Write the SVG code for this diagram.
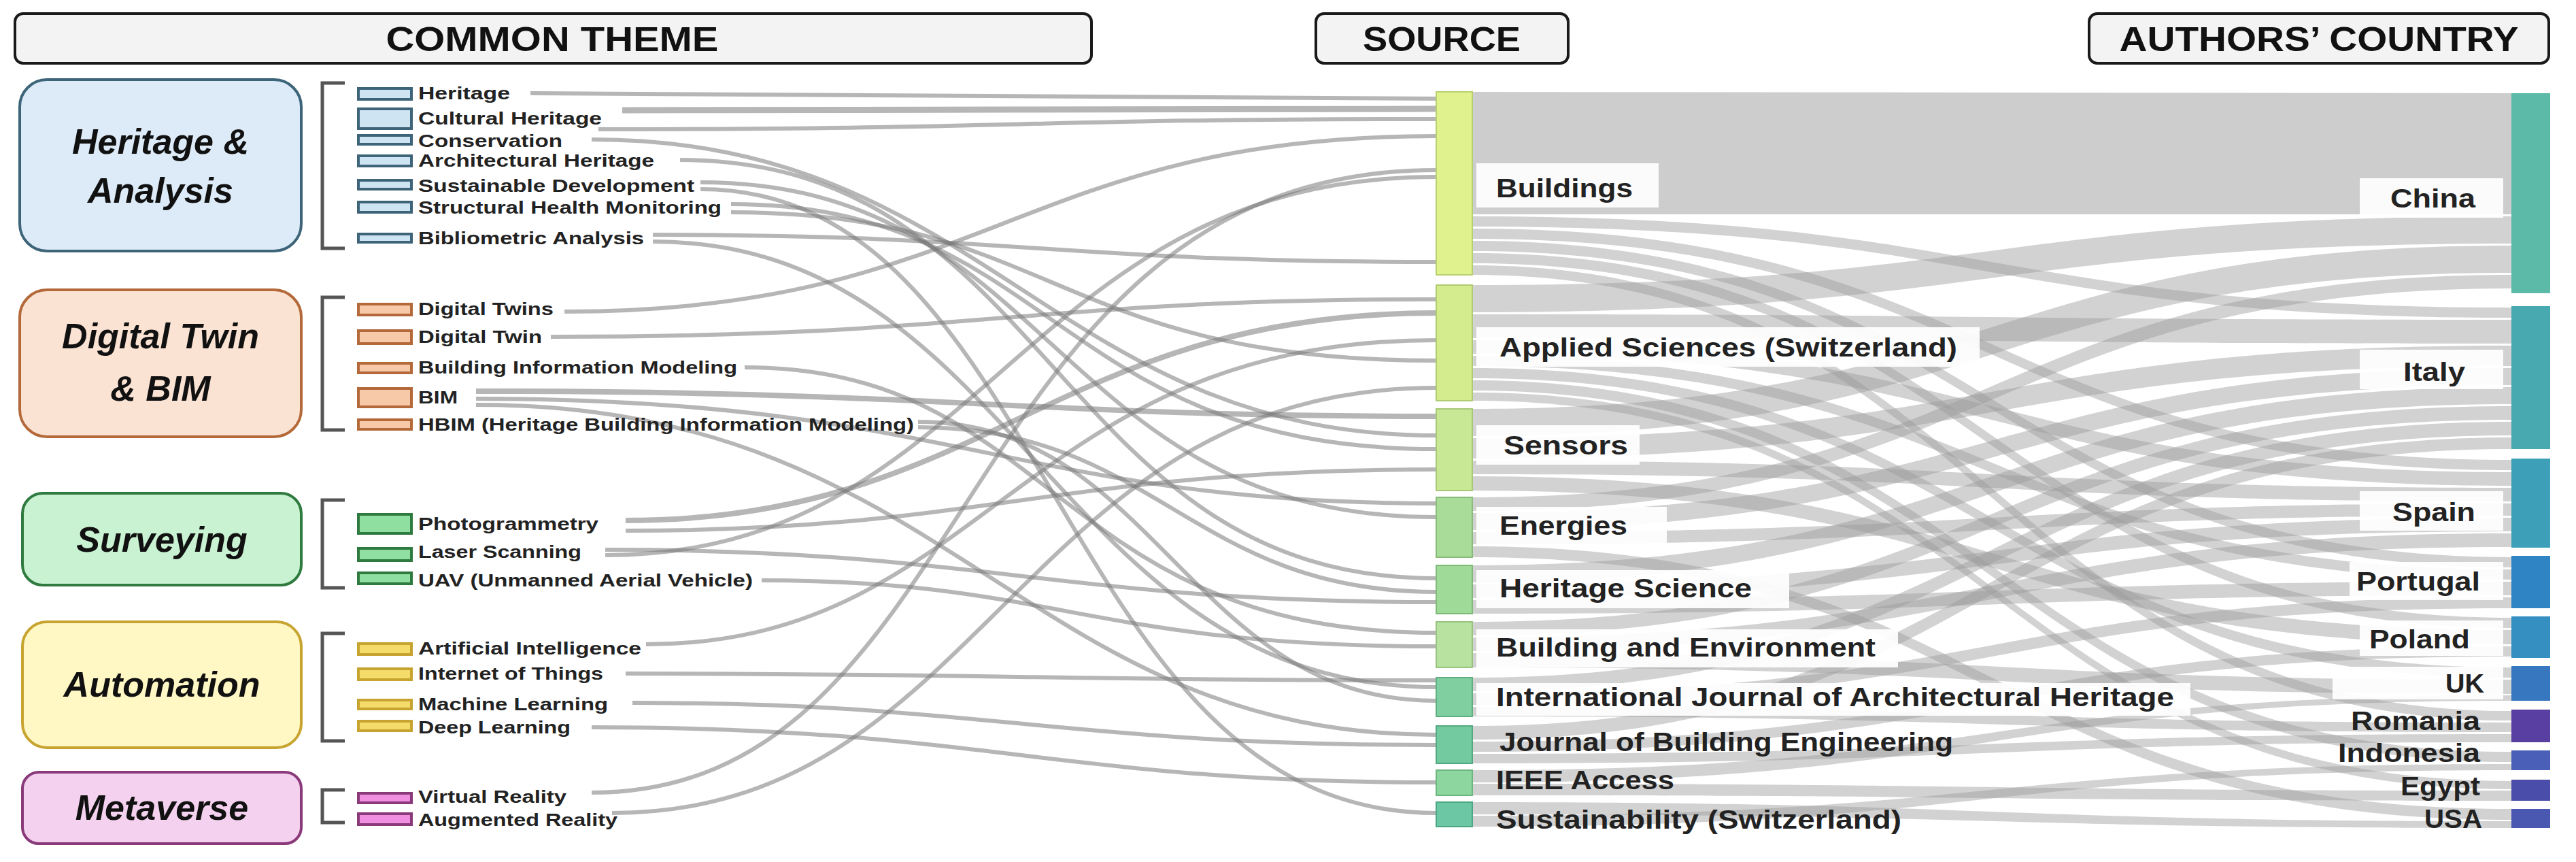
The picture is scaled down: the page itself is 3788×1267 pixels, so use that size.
<svg xmlns="http://www.w3.org/2000/svg" width="3788" height="1267" viewBox="0 0 3788 1267">
<style>
.hdr{fill:#f3f3f3;stroke:#1a1a1a;stroke-width:4}
.ht{font-family:"Liberation Sans",Arial,sans-serif;font-weight:bold;font-size:50px;fill:#111;text-anchor:middle}
.gt{font-family:"Liberation Sans",Arial,sans-serif;font-weight:bold;font-style:italic;font-size:52px;fill:#111;text-anchor:middle}
.it{font-family:"Liberation Sans",Arial,sans-serif;font-weight:bold;font-size:26px;fill:#222}
.st{font-family:"Liberation Sans",Arial,sans-serif;font-weight:bold;font-size:38px;fill:#222}
.ct{font-family:"Liberation Sans",Arial,sans-serif;font-weight:bold;font-size:38px;fill:#222;text-anchor:end}
.br{fill:none;stroke:#555;stroke-width:5}
.lk{fill:none;stroke:#7a7a7a;stroke-opacity:0.55;stroke-width:6}
.fl{fill:#9c9c9c;fill-opacity:0.45}
.lb{fill:#fff;fill-opacity:0.92}
.h1{fill:#cfe4f3;stroke:#3d6478;stroke-width:4}
.h2{fill:#f8c9a8;stroke:#b4693a;stroke-width:4}
.h3{fill:#8fe0a0;stroke:#2f7a3f;stroke-width:4}
.h4{fill:#f5dc6a;stroke:#c7a430;stroke-width:4}
.h5{fill:#f08ee0;stroke:#8a3a7a;stroke-width:4}
</style>
<rect width="3788" height="1267" fill="#fff"/>
<!-- headers -->
<g id="hdr-theme"><rect class="hdr" x="22" y="20" width="1583" height="73" rx="12"/><text class="ht" x="812" y="75" textLength="489" lengthAdjust="spacingAndGlyphs">COMMON THEME</text></g>
<g id="hdr-source"><rect class="hdr" x="1935" y="20" width="371" height="73" rx="12"/><text class="ht" x="2120" y="75" textLength="232" lengthAdjust="spacingAndGlyphs">SOURCE</text></g>
<g id="hdr-country"><rect class="hdr" x="3072" y="20" width="676" height="73" rx="12"/><text class="ht" x="3410" y="75" textLength="587" lengthAdjust="spacingAndGlyphs">AUTHORS’ COUNTRY</text></g>

<!-- right flows -->
<g id="flows">
<path class="fl" d="M2165,135 L3693,137 L3693,315 L2165,315 Z" style="fill:#c4c4c4;fill-opacity:0.85"/>
<path class="fl" d="M2165,318 C2929,318 2929,452 3693,452 L3693,467 C2929,467 2929,333 2165,333 Z"/>
<path class="fl" d="M2165,336 C2929,336 2929,676 3693,676 L3693,691 C2929,691 2929,351 2165,351 Z"/>
<path class="fl" d="M2165,354 C2929,354 2929,819 3693,819 L3693,834 C2929,834 2929,369 2165,369 Z"/>
<path class="fl" d="M2165,372 C2929,372 2929,908 3693,908 L3693,923 C2929,923 2929,387 2165,387 Z"/>
<path class="fl" d="M2165,390 C2929,390 2929,1045 3693,1045 L3693,1059 C2929,1059 2929,404 2165,404 Z"/>
<path class="fl" d="M2165,419 C2929,419 2929,318 3693,318 L3693,358 C2929,358 2929,459 2165,459 Z"/>
<path class="fl" d="M2165,462 C2929,462 2929,470 3693,470 L3693,505 C2929,505 2929,497 2165,497 Z"/>
<path class="fl" d="M2165,500 C2929,500 2929,694 3693,694 L3693,714 C2929,714 2929,520 2165,520 Z"/>
<path class="fl" d="M2165,523 C2929,523 2929,837 3693,837 L3693,852 C2929,852 2929,538 2165,538 Z"/>
<path class="fl" d="M2165,541 C2929,541 2929,981 3693,981 L3693,996 C2929,996 2929,556 2165,556 Z"/>
<path class="fl" d="M2165,559 C2929,559 2929,1105 3693,1105 L3693,1120 C2929,1120 2929,574 2165,574 Z"/>
<path class="fl" d="M2165,577 C2929,577 2929,1148 3693,1148 L3693,1160 C2929,1160 2929,589 2165,589 Z"/>
<path class="fl" d="M2165,601 C2929,601 2929,361 3693,361 L3693,401 C2929,401 2929,641 2165,641 Z"/>
<path class="fl" d="M2165,644 C2929,644 2929,508 3693,508 L3693,538 C2929,538 2929,674 2165,674 Z"/>
<path class="fl" d="M2165,677 C2929,677 2929,717 3693,717 L3693,737 C2929,737 2929,697 2165,697 Z"/>
<path class="fl" d="M2165,700 C2929,700 2929,926 3693,926 L3693,947 C2929,947 2929,721 2165,721 Z"/>
<path class="fl" d="M2165,731 C2929,731 2929,404 3693,404 L3693,424 C2929,424 2929,751 2165,751 Z"/>
<path class="fl" d="M2165,754 C2929,754 2929,541 3693,541 L3693,566 C2929,566 2929,779 2165,779 Z"/>
<path class="fl" d="M2165,782 C2929,782 2929,740 3693,740 L3693,758 C2929,758 2929,800 2165,800 Z"/>
<path class="fl" d="M2165,803 C2929,803 2929,1189 3693,1189 L3693,1205 C2929,1205 2929,819 2165,819 Z"/>
<path class="fl" d="M2165,831 C2929,831 2929,569 3693,569 L3693,594 C2929,594 2929,856 2165,856 Z"/>
<path class="fl" d="M2165,859 C2929,859 2929,761 3693,761 L3693,781 C2929,781 2929,879 2165,879 Z"/>
<path class="fl" d="M2165,882 C2929,882 2929,855 3693,855 L3693,875 C2929,875 2929,902 2165,902 Z"/>
<path class="fl" d="M2165,914 C2929,914 2929,597 3693,597 L3693,617 C2929,617 2929,934 2165,934 Z"/>
<path class="fl" d="M2165,937 C2929,937 2929,784 3693,784 L3693,804 C2929,804 2929,957 2165,957 Z"/>
<path class="fl" d="M2165,960 C2929,960 2929,999 3693,999 L3693,1020 C2929,1020 2929,981 2165,981 Z"/>
<path class="fl" d="M2165,996 C2929,996 2929,620 3693,620 L3693,640 C2929,640 2929,1016 2165,1016 Z"/>
<path class="fl" d="M2165,1019 C2929,1019 2929,878 3693,878 L3693,894 C2929,894 2929,1036 2165,1036 Z"/>
<path class="fl" d="M2165,1039 C2929,1039 2929,1062 3693,1062 L3693,1076 C2929,1076 2929,1053 2165,1053 Z"/>
<path class="fl" d="M2165,1067 C2929,1067 2929,643 3693,643 L3693,660 C2929,660 2929,1087 2165,1087 Z"/>
<path class="fl" d="M2165,1090 C2929,1090 2929,950 3693,950 L3693,965 C2929,965 2929,1105 2165,1105 Z"/>
<path class="fl" d="M2165,1108 C2929,1108 2929,1079 3693,1079 L3693,1091 C2929,1091 2929,1122 2165,1122 Z"/>
<path class="fl" d="M2165,1132 C2929,1132 2929,1022 3693,1022 L3693,1030 C2929,1030 2929,1150 2165,1150 Z"/>
<path class="fl" d="M2165,1152 C2929,1152 2929,1162 3693,1162 L3693,1177 C2929,1177 2929,1169 2165,1169 Z"/>
<path class="fl" d="M2165,1179 C2929,1179 2929,1207 3693,1207 L3693,1217 C2929,1217 2929,1197 2165,1197 Z"/>
<path class="fl" d="M2165,1199 C2929,1199 2929,1123 3693,1123 L3693,1132 C2929,1132 2929,1215 2165,1215 Z"/>
</g>

<!-- left connectors -->
<g id="links">
<path class="lk" d="M780,137 C1400,137 1500,145 2112,145"/>
<path class="lk" d="M915,162 C1500,162 1500,160 2112,160" style="stroke-width:9"/>
<path class="lk" d="M880,190 C1500,190 1500,175 2112,175"/>
<path class="lk" d="M870,205 C1450,205 1550,640 2112,640"/>
<path class="lk" d="M1000,235 C1550,235 1550,850 2112,850"/>
<path class="lk" d="M1030,268 C1550,268 1550,760 2112,760"/>
<path class="lk" d="M1030,278 C1550,278 1550,1195 2112,1195"/>
<path class="lk" d="M1075,300 C1550,300 1550,660 2112,660"/>
<path class="lk" d="M1075,312 C1550,312 1550,530 2112,530"/>
<path class="lk" d="M960,345 C1500,345 1550,385 2112,385"/>
<path class="lk" d="M960,355 C1500,355 1550,1010 2112,1010"/>
<path class="lk" d="M830,458 C1450,458 1500,200 2112,200"/>
<path class="lk" d="M810,495 C1450,495 1500,440 2112,440"/>
<path class="lk" d="M1095,540 C1550,540 1550,930 2112,930"/>
<path class="lk" d="M700,575 C1400,575 1500,612 2112,612" style="stroke-width:8"/>
<path class="lk" d="M700,586 C1400,586 1500,740 2112,740"/>
<path class="lk" d="M700,595 C1400,595 1500,1080 2112,1080"/>
<path class="lk" d="M1350,620 C1700,620 1750,1030 2112,1030"/>
<path class="lk" d="M1350,628 C1700,628 1750,870 2112,870"/>
<path class="lk" d="M920,765 C1450,765 1550,460 2112,460" style="stroke-width:8"/>
<path class="lk" d="M920,780 C1450,780 1550,690 2112,690"/>
<path class="lk" d="M890,808 C1450,808 1550,885 2112,885"/>
<path class="lk" d="M890,816 C1450,816 1500,260 2112,260"/>
<path class="lk" d="M1120,853 C1550,853 1600,950 2112,950"/>
<path class="lk" d="M950,947 C1450,947 1500,500 2112,500"/>
<path class="lk" d="M920,990 C1450,990 1550,1000 2112,1000"/>
<path class="lk" d="M930,1033 C1450,1033 1550,1095 2112,1095"/>
<path class="lk" d="M870,1069 C1450,1069 1550,1150 2112,1150"/>
<path class="lk" d="M870,1165 C1450,1165 1400,250 2112,250"/>
<path class="lk" d="M900,1195 C1450,1195 1500,570 2112,570"/>
</g>

<!-- theme groups -->
<g id="grp-heritage"><rect class="h1" x="29" y="117" width="414" height="252" rx="40" style="fill:#dcebf7"/><text class="gt" x="236" y="226">Heritage &amp;</text><text class="gt" x="236" y="298">Analysis</text><path class="br" d="M507,122 H474 V365 H507"/></g>
<g id="grp-dt"><rect class="h2" x="29" y="426" width="414" height="216" rx="40" style="fill:#fbe3d3"/><text class="gt" x="236" y="512">Digital Twin</text><text class="gt" x="236" y="589">&amp; BIM</text><path class="br" d="M507,437 H474 V632 H507"/></g>
<g id="grp-surv"><rect class="h3" x="33" y="725" width="410" height="135" rx="30" style="fill:#c9f2d2"/><text class="gt" x="238" y="811">Surveying</text><path class="br" d="M507,735 H474 V864 H507"/></g>
<g id="grp-auto"><rect class="h4" x="33" y="914" width="410" height="185" rx="36" style="fill:#fff8c4"/><text class="gt" x="238" y="1024">Automation</text><path class="br" d="M507,931 H474 V1089 H507"/></g>
<g id="grp-meta"><rect class="h5" x="33" y="1135" width="410" height="105" rx="24" style="fill:#f4d2ef"/><text class="gt" x="238" y="1205">Metaverse</text><path class="br" d="M507,1161 H474 V1209 H507"/></g>

<!-- items -->
<g id="items">
<g id="it-heritage"><rect class="h1" x="527" y="130" width="78" height="16"/><text class="it" x="615" y="146" textLength="135" lengthAdjust="spacingAndGlyphs">Heritage</text></g>
<g id="it-cultural"><rect class="h1" x="527" y="160" width="78" height="29"/><text class="it" x="615" y="183" textLength="270" lengthAdjust="spacingAndGlyphs">Cultural Heritage</text></g>
<g id="it-conservation"><rect class="h1" x="527" y="199" width="78" height="13"/><text class="it" x="615" y="216" textLength="212" lengthAdjust="spacingAndGlyphs">Conservation</text></g>
<g id="it-arch"><rect class="h1" x="527" y="229" width="78" height="15"/><text class="it" x="615" y="245" textLength="347" lengthAdjust="spacingAndGlyphs">Architectural Heritage</text></g>
<g id="it-sust"><rect class="h1" x="527" y="265" width="78" height="13"/><text class="it" x="615" y="282" textLength="406" lengthAdjust="spacingAndGlyphs">Sustainable Development</text></g>
<g id="it-shm"><rect class="h1" x="527" y="297" width="78" height="15"/><text class="it" x="615" y="314" textLength="446" lengthAdjust="spacingAndGlyphs">Structural Health Monitoring</text></g>
<g id="it-biblio"><rect class="h1" x="527" y="344" width="78" height="12"/><text class="it" x="615" y="359" textLength="332" lengthAdjust="spacingAndGlyphs">Bibliometric Analysis</text></g>
<g id="it-dts"><rect class="h2" x="527" y="447" width="78" height="16"/><text class="it" x="615" y="463" textLength="199" lengthAdjust="spacingAndGlyphs">Digital Twins</text></g>
<g id="it-dt"><rect class="h2" x="527" y="486" width="78" height="19"/><text class="it" x="615" y="504" textLength="182" lengthAdjust="spacingAndGlyphs">Digital Twin</text></g>
<g id="it-bimfull"><rect class="h2" x="527" y="534" width="78" height="14"/><text class="it" x="615" y="549" textLength="469" lengthAdjust="spacingAndGlyphs">Building Information Modeling</text></g>
<g id="it-bim"><rect class="h2" x="527" y="571" width="78" height="27"/><text class="it" x="615" y="593" textLength="58" lengthAdjust="spacingAndGlyphs">BIM</text></g>
<g id="it-hbim"><rect class="h2" x="527" y="617" width="78" height="14"/><text class="it" x="615" y="633" textLength="729" lengthAdjust="spacingAndGlyphs">HBIM (Heritage Building Information Modeling)</text></g>
<g id="it-photo"><rect class="h3" x="527" y="756" width="78" height="28"/><text class="it" x="615" y="779" textLength="265" lengthAdjust="spacingAndGlyphs">Photogrammetry</text></g>
<g id="it-laser"><rect class="h3" x="527" y="806" width="78" height="18"/><text class="it" x="615" y="820" textLength="240" lengthAdjust="spacingAndGlyphs">Laser Scanning</text></g>
<g id="it-uav"><rect class="h3" x="527" y="842" width="78" height="16"/><text class="it" x="615" y="862" textLength="492" lengthAdjust="spacingAndGlyphs">UAV (Unmanned Aerial Vehicle)</text></g>
<g id="it-ai"><rect class="h4" x="527" y="946" width="78" height="16"/><text class="it" x="615" y="962" textLength="328" lengthAdjust="spacingAndGlyphs">Artificial Intelligence</text></g>
<g id="it-iot"><rect class="h4" x="527" y="983" width="78" height="16"/><text class="it" x="615" y="999" textLength="272" lengthAdjust="spacingAndGlyphs">Internet of Things</text></g>
<g id="it-ml"><rect class="h4" x="527" y="1029" width="78" height="13"/><text class="it" x="615" y="1044" textLength="279" lengthAdjust="spacingAndGlyphs">Machine Learning</text></g>
<g id="it-dl"><rect class="h4" x="527" y="1060" width="78" height="14"/><text class="it" x="615" y="1078" textLength="224" lengthAdjust="spacingAndGlyphs">Deep Learning</text></g>
<g id="it-vr"><rect class="h5" x="527" y="1166" width="78" height="14"/><text class="it" x="615" y="1180" textLength="218" lengthAdjust="spacingAndGlyphs">Virtual Reality</text></g>
<g id="it-ar"><rect class="h5" x="527" y="1196" width="78" height="16"/><text class="it" x="615" y="1214" textLength="293" lengthAdjust="spacingAndGlyphs">Augmented Reality</text></g>
</g>

<!-- source nodes -->
<g id="sources">
<g id="s-buildings"><rect x="2112" y="135" width="53" height="269" fill="#e0f28e" stroke="#b9d070" stroke-width="2"/><rect class="lb" x="2171" y="240" width="268" height="65"/><text class="st" x="2200" y="290" textLength="201" lengthAdjust="spacingAndGlyphs">Buildings</text></g>
<g id="s-applied"><rect x="2112" y="419" width="53" height="170" fill="#d4ec8e" stroke="#b0cc70" stroke-width="2"/><rect class="lb" x="2171" y="481" width="740" height="58"/><text class="st" x="2205" y="524" textLength="673" lengthAdjust="spacingAndGlyphs">Applied Sciences (Switzerland)</text></g>
<g id="s-sensors"><rect x="2112" y="601" width="53" height="120" fill="#c8e895" stroke="#a8c878" stroke-width="2"/><rect class="lb" x="2171" y="625" width="240" height="58"/><text class="st" x="2211" y="668" textLength="183" lengthAdjust="spacingAndGlyphs">Sensors</text></g>
<g id="s-energies"><rect x="2112" y="731" width="53" height="88" fill="#a8dc98" stroke="#88bc78" stroke-width="2"/><rect class="lb" x="2171" y="745" width="280" height="58"/><text class="st" x="2205" y="786" textLength="188" lengthAdjust="spacingAndGlyphs">Energies</text></g>
<g id="s-hs"><rect x="2112" y="831" width="53" height="71" fill="#a0da98" stroke="#80ba78" stroke-width="2"/><rect class="lb" x="2171" y="838" width="460" height="56"/><text class="st" x="2205" y="878" textLength="371" lengthAdjust="spacingAndGlyphs">Heritage Science</text></g>
<g id="s-be"><rect x="2112" y="914" width="53" height="67" fill="#b8e2a0" stroke="#98c280" stroke-width="2"/><rect class="lb" x="2171" y="925" width="620" height="56"/><text class="st" x="2200" y="965" textLength="558" lengthAdjust="spacingAndGlyphs">Building and Environment</text></g>
<g id="s-ijah"><rect x="2112" y="996" width="53" height="57" fill="#80cfa0" stroke="#60af80" stroke-width="2"/><rect class="lb" x="2171" y="1004" width="1050" height="48"/><text class="st" x="2200" y="1038" textLength="997" lengthAdjust="spacingAndGlyphs">International Journal of Architectural Heritage</text></g>
<g id="s-jbe"><rect x="2112" y="1067" width="53" height="55" fill="#74caa0" stroke="#54aa80" stroke-width="2"/><text class="st" x="2205" y="1104" textLength="667" lengthAdjust="spacingAndGlyphs">Journal of Building Engineering</text></g>
<g id="s-ieee"><rect x="2112" y="1132" width="53" height="37" fill="#8ed6a0" stroke="#6eb680" stroke-width="2"/><text class="st" x="2200" y="1160" textLength="262" lengthAdjust="spacingAndGlyphs">IEEE Access</text></g>
<g id="s-sust"><rect x="2112" y="1179" width="53" height="36" fill="#6cc8a4" stroke="#4ca884" stroke-width="2"/><text class="st" x="2200" y="1218" textLength="596" lengthAdjust="spacingAndGlyphs">Sustainability (Switzerland)</text></g>
</g>

<!-- country nodes -->
<g id="countries">
<g id="c-china"><rect x="3693" y="137" width="57" height="294" fill="#5bbba8"/><rect class="lb" x="3470" y="262" width="211" height="58"/><text class="ct" x="3640" y="305" textLength="125" lengthAdjust="spacingAndGlyphs">China</text></g>
<g id="c-italy"><rect x="3693" y="450" width="57" height="210" fill="#49a9b0"/><rect class="lb" x="3470" y="514" width="211" height="58"/><text class="ct" x="3625" y="560" textLength="91" lengthAdjust="spacingAndGlyphs">Italy</text></g>
<g id="c-spain"><rect x="3693" y="674" width="57" height="131" fill="#3d9fb8"/><rect class="lb" x="3470" y="722" width="211" height="58"/><text class="ct" x="3640" y="766" textLength="122" lengthAdjust="spacingAndGlyphs">Spain</text></g>
<g id="c-portugal"><rect x="3693" y="817" width="57" height="77" fill="#2f84c4"/><rect class="lb" x="3455" y="826" width="226" height="56"/><text class="ct" x="3647" y="868" textLength="182" lengthAdjust="spacingAndGlyphs">Portugal</text></g>
<g id="c-poland"><rect x="3693" y="906" width="57" height="61" fill="#358fc0"/><rect class="lb" x="3470" y="912" width="211" height="52"/><text class="ct" x="3632" y="953" textLength="148" lengthAdjust="spacingAndGlyphs">Poland</text></g>
<g id="c-uk"><rect x="3693" y="979" width="57" height="51" fill="#3677c0"/><rect class="lb" x="3430" y="980" width="251" height="48"/><text class="ct" x="3653" y="1018" textLength="57" lengthAdjust="spacingAndGlyphs">UK</text></g>
<g id="c-romania"><rect x="3693" y="1043" width="57" height="48" fill="#5a3fa2"/><text class="ct" x="3647" y="1073" textLength="190" lengthAdjust="spacingAndGlyphs">Romania</text></g>
<g id="c-indonesia"><rect x="3693" y="1103" width="57" height="29" fill="#4a60b8"/><text class="ct" x="3647" y="1120" textLength="209" lengthAdjust="spacingAndGlyphs">Indonesia</text></g>
<g id="c-egypt"><rect x="3693" y="1146" width="57" height="31" fill="#4a4eaa"/><text class="ct" x="3647" y="1169" textLength="117" lengthAdjust="spacingAndGlyphs">Egypt</text></g>
<g id="c-usa"><rect x="3693" y="1189" width="57" height="28" fill="#4a58b2"/><text class="ct" x="3650" y="1217" textLength="85" lengthAdjust="spacingAndGlyphs">USA</text></g>
</g>
</svg>
